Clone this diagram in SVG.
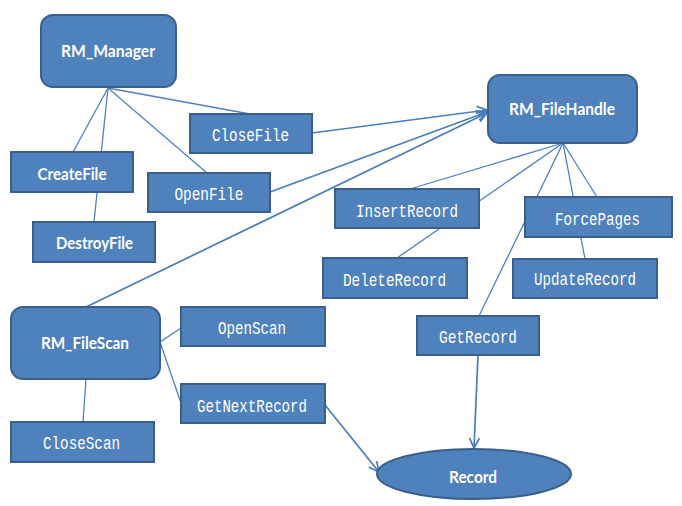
<svg xmlns="http://www.w3.org/2000/svg" width="682" height="506" viewBox="0 0 682 506">
<style>
.box{fill:#4F81BD;stroke:#3A5F8B;stroke-width:2}
.lbl{font-family:Lato,"Liberation Sans",sans-serif;font-weight:bold;font-size:17px;fill:#fff;text-anchor:middle}
.mono{font-family:"Liberation Mono","DejaVu Sans Mono",monospace;font-size:19px;fill:#fff;text-anchor:middle}
.ln{stroke:#4F81BD;stroke-width:1.3;fill:none}
.ar{stroke:#4A7EBB;stroke-width:1.7;fill:none;marker-end:url(#arr)}
</style>
<defs>
<marker id="arr" markerWidth="14" markerHeight="14" refX="12" refY="7" orient="auto" markerUnits="userSpaceOnUse">
<path d="M2,2 L12,7 L2,12" fill="none" stroke="#4A7EBB" stroke-width="1.7"/>
</marker>
</defs>
<rect width="682" height="506" fill="#fff"/>
<g id="connectors">
<line class="ln" x1="108" y1="88" x2="73" y2="152"/>
<line class="ln" x1="108" y1="88" x2="94" y2="222"/>
<line class="ln" x1="108" y1="88" x2="207" y2="173"/>
<line class="ln" x1="108" y1="88" x2="250" y2="114"/>
<line class="ln" x1="563" y1="143" x2="410" y2="189"/>
<line class="ln" x1="563" y1="143" x2="397" y2="258"/>
<line class="ln" x1="563" y1="143" x2="597" y2="197"/>
<line class="ln" x1="563" y1="143" x2="585" y2="259"/>
<line class="ln" x1="563" y1="143" x2="479" y2="316"/>
<line class="ln" x1="160" y1="342" x2="181" y2="328"/>
<line class="ln" x1="160" y1="342" x2="181" y2="403"/>
<line class="ln" x1="86" y1="379" x2="83" y2="422"/>
<line class="ar" x1="312" y1="133" x2="487" y2="110"/>
<line class="ar" x1="270" y1="192" x2="487" y2="112"/>
<line class="ar" x1="86" y1="307" x2="487" y2="113"/>
<line class="ar" x1="325" y1="405" x2="379" y2="472"/>
<line class="ar" x1="478" y1="355" x2="474" y2="448"/>
</g>
<g id="RM_Manager"><rect class="box" x="41" y="15" width="135" height="72" rx="12"/><text class="lbl" x="108" y="57" textLength="94" lengthAdjust="spacingAndGlyphs">RM_Manager</text></g>
<g id="CloseFile"><rect class="box" x="190" y="114" width="122" height="39"/><text class="mono" x="250.5" y="141" textLength="77" lengthAdjust="spacingAndGlyphs">CloseFile</text></g>
<g id="CreateFile"><rect class="box" x="11" y="152" width="122" height="40"/><text class="lbl" x="72" y="180" textLength="69" lengthAdjust="spacingAndGlyphs">CreateFile</text></g>
<g id="OpenFile"><rect class="box" x="148" y="173" width="122" height="39"/><text class="mono" x="209" y="200" textLength="69" lengthAdjust="spacingAndGlyphs">OpenFile</text></g>
<g id="DestroyFile"><rect class="box" x="33" y="222" width="122" height="40"/><text class="lbl" x="94.5" y="249" textLength="77" lengthAdjust="spacingAndGlyphs">DestroyFile</text></g>
<g id="RM_FileHandle"><rect class="box" x="488" y="75" width="149" height="68" rx="12"/><text class="lbl" x="562" y="115" textLength="106" lengthAdjust="spacingAndGlyphs">RM_FileHandle</text></g>
<g id="InsertRecord"><rect class="box" x="335" y="189" width="144" height="39"/><text class="mono" x="407" y="217" textLength="102" lengthAdjust="spacingAndGlyphs">InsertRecord</text></g>
<g id="ForcePages"><rect class="box" x="525" y="197" width="147" height="40"/><text class="mono" x="597.5" y="225" textLength="85" lengthAdjust="spacingAndGlyphs">ForcePages</text></g>
<g id="DeleteRecord"><rect class="box" x="323" y="258" width="144" height="40"/><text class="mono" x="394.5" y="286" textLength="103" lengthAdjust="spacingAndGlyphs">DeleteRecord</text></g>
<g id="UpdateRecord"><rect class="box" x="513" y="259" width="144" height="39"/><text class="mono" x="585" y="285" textLength="102" lengthAdjust="spacingAndGlyphs">UpdateRecord</text></g>
<g id="RM_FileScan"><rect class="box" x="11" y="307" width="149" height="72" rx="12"/><text class="lbl" x="85" y="349" textLength="88" lengthAdjust="spacingAndGlyphs">RM_FileScan</text></g>
<g id="OpenScan"><rect class="box" x="181" y="307" width="144" height="39"/><text class="mono" x="252" y="334" textLength="68" lengthAdjust="spacingAndGlyphs">OpenScan</text></g>
<g id="GetNextRecord"><rect class="box" x="181" y="384" width="144" height="39"/><text class="mono" x="252" y="412" textLength="110" lengthAdjust="spacingAndGlyphs">GetNextRecord</text></g>
<g id="CloseScan"><rect class="box" x="11" y="422" width="143" height="40"/><text class="mono" x="81.5" y="449" textLength="77" lengthAdjust="spacingAndGlyphs">CloseScan</text></g>
<g id="GetRecord"><rect class="box" x="417" y="316" width="122" height="39"/><text class="mono" x="478" y="343" textLength="78" lengthAdjust="spacingAndGlyphs">GetRecord</text></g>
<g id="Record"><ellipse class="box" cx="474" cy="474" rx="97" ry="25"/><text class="lbl" x="473" y="483" textLength="48" lengthAdjust="spacingAndGlyphs">Record</text></g>
</svg>
